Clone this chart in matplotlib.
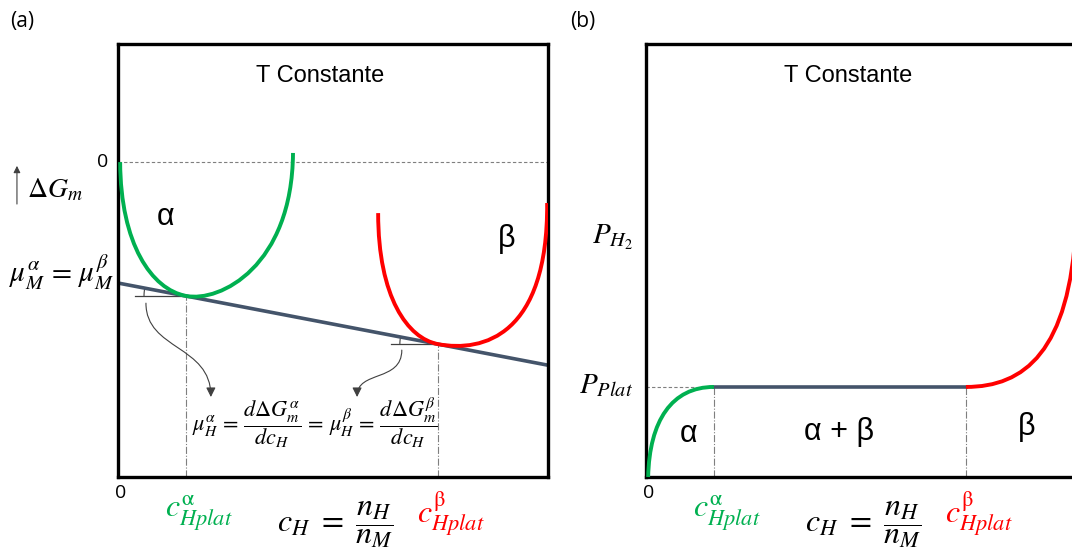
import matplotlib.pyplot as plt
from matplotlib.path import Path
from matplotlib.patches import PathPatch, FancyArrowPatch, Arc
from matplotlib.transforms import blended_transform_factory

plt.rcParams['mathtext.fontset'] = 'stix'
plt.rcParams['font.family'] = ['Liberation Sans', 'DejaVu Sans']

GREEN = '#00B050'
RED = '#FF0000'
SLATE = '#44546A'
GUIDE = '#7F7F7F'

# composition axis (c_H, 0..1) shared by both panels
c_alpha = 0.158
c_beta = 0.744

# (a) free energy: common tangent  mu_M + mu_H * c_H
mu_M = -0.384
mu_H = -0.261
g_ylim = (-1.0, 0.375)

# Bezier control points of the two free-energy wells
g_alpha = [(0.005, 0.0), (0.006, -0.26), (0.078, -0.404), (0.158, -0.425),
           (0.238, -0.446), (0.405, -0.33), (0.407, 0.029)]
g_beta = [(0.605, -0.162), (0.605, -0.43), (0.674, -0.560), (0.744, -0.578),
          (0.85, -0.605), (1.0, -0.55), (0.998, -0.130)]

# curved arrows pointing at the chemical potential equality
arrow_alpha = [(0.065, -0.448), (0.065, -0.597), (0.216, -0.581), (0.216, -0.746)]
arrow_beta = [(0.660, -0.597), (0.660, -0.699), (0.556, -0.661), (0.556, -0.746)]

# (b) pressure - composition isotherm
p_plat = 0.208
p_h2 = 0.554
p_alpha = [(0.005, 0.0), (0.008, 0.13), (0.06, 0.208), (0.158, 0.208)]
p_beta = [(0.744, 0.208), (0.88, 0.208), (0.985, 0.29), (1.0, 0.58)]


def bezier(ax, pts, color, lw):
    codes = [Path.MOVETO] + [Path.CURVE4] * (len(pts) - 1)
    ax.add_patch(PathPatch(Path(pts, codes), fill=False, edgecolor=color,
                           lw=lw, capstyle='butt', zorder=3))


def curved_arrow(ax, pts):
    codes = [Path.MOVETO] + [Path.CURVE4] * 3
    ax.add_patch(FancyArrowPatch(path=Path(pts, codes), arrowstyle='-|>',
                                 mutation_scale=14, lw=0.8, color='#404040',
                                 zorder=4))


def frame(ax):
    for s in ax.spines.values():
        s.set_linewidth(2.4)
    ax.set_xticks([])
    ax.set_yticks([])
    ax.set_xlim(0, 1)


fig = plt.figure(figsize=(10.72, 5.59), dpi=100)
ax1 = fig.add_axes([118 / 1072, 82 / 559, 430 / 1072, 433 / 559])
ax2 = fig.add_axes([646 / 1072, 82 / 559, 430 / 1072, 433 / 559])

# ---------------- (a) ----------------
frame(ax1)
ax1.set_ylim(*g_ylim)
ybot = g_ylim[0]
t_alpha = mu_M + mu_H * c_alpha
t_beta = mu_M + mu_H * c_beta

ax1.axhline(0, color=GUIDE, lw=0.8, ls=(0, (3, 2)), zorder=1)
ax1.plot([0, 1], [mu_M, mu_M + mu_H], color=SLATE, lw=2.6, zorder=2)
bezier(ax1, g_alpha, GREEN, 2.8)
bezier(ax1, g_beta, RED, 2.8)

for c, t in [(c_alpha, t_alpha), (c_beta, t_beta)]:
    ax1.plot([c, c], [ybot, t], color=GUIDE, lw=0.8, ls='-.', zorder=1)
ax1.plot([0.04, c_alpha], [t_alpha, t_alpha], color='#404040', lw=0.9, zorder=1)
ax1.plot([0.635, c_beta], [t_beta, t_beta], color='#404040', lw=0.9, zorder=1)
ax1.add_patch(Arc((c_alpha, t_alpha), 0.195, 0.266, theta1=166, theta2=180,
                  color='#404040', lw=0.8))
ax1.add_patch(Arc((c_beta, t_beta), 0.177, 0.241, theta1=166, theta2=180,
                  color='#404040', lw=0.8))
curved_arrow(ax1, arrow_alpha)
curved_arrow(ax1, arrow_beta)

ax1.text(0.47, 0.925, 'T Constante', transform=ax1.transAxes, ha='center',
         va='center', fontsize=17)
ax1.text(0.11, 0.6, 'α', transform=ax1.transAxes, fontsize=22, ha='center',
         va='center')
ax1.text(0.905, 0.55, 'β', transform=ax1.transAxes, fontsize=22, ha='center',
         va='center')
ax1.text(0.458, -0.83,
         r'$\mu_H^\alpha\,=\,\dfrac{d\Delta G_m^\alpha}{dc_H}\,=\,\mu_H^\beta'
         r'\,=\,\dfrac{d\Delta G_m^\beta}{dc_H}$',
         fontsize=16, ha='center', va='center')

ty1 = blended_transform_factory(ax1.transAxes, ax1.transData)
ax1.text(-0.022, 0, '0', transform=ty1, fontsize=14, ha='right', va='center',
         family='Open Sans')
ax1.text(-0.01, mu_M + 0.035, r'$\mu_M^\alpha\,=\,\mu_M^\beta$', transform=ty1,
         fontsize=21, ha='right', va='center')
ax1.text(-0.212, 0.663, r'$\Delta G_m$', transform=ax1.transAxes, fontsize=20,
         ha='left', va='center')
ax1.annotate('', xy=(-0.235, 0.725), xytext=(-0.235, 0.624),
             xycoords='axes fraction',
             arrowprops=dict(arrowstyle='-|>', color='#404040', lw=0.8,
                             mutation_scale=10))

# ---------------- (b) ----------------
frame(ax2)
ax2.set_ylim(0, 1)
ax2.plot([0, c_alpha], [p_plat, p_plat], color=GUIDE, lw=0.8, ls=(0, (3, 2)),
         zorder=1)
ax2.plot([c_alpha, c_beta], [p_plat, p_plat], color=SLATE, lw=2.6, zorder=2)
bezier(ax2, p_alpha, GREEN, 2.8)
bezier(ax2, p_beta, RED, 2.8)
for c in (c_alpha, c_beta):
    ax2.plot([c, c], [0, p_plat], color=GUIDE, lw=0.8, ls='-.', zorder=1)

ax2.text(0.47, 0.925, 'T Constante', transform=ax2.transAxes, ha='center',
         va='center', fontsize=17)
ax2.text(0.1, 0.1, 'α', fontsize=22, ha='center', va='center')
ax2.text(0.45, 0.105, 'α + β', fontsize=22, ha='center', va='center')
ax2.text(0.885, 0.115, 'β', fontsize=22, ha='center', va='center')

ty2 = blended_transform_factory(ax2.transAxes, ax2.transData)
ax2.text(-0.03, p_h2, r'$P_{H_2}$', transform=ty2, fontsize=21, ha='right',
         va='center')
ax2.text(-0.03, p_plat + 0.005, r'$P_{Plat}$', transform=ty2, fontsize=21,
         ha='right', va='center')

# shared bottom annotations
for ax in (ax1, ax2):
    tx = blended_transform_factory(ax.transData, ax.transAxes)
    ax.text(0.005, -0.037, '0', transform=tx, fontsize=14, ha='center',
            va='center', family='Open Sans')
    ax.text(c_alpha + 0.03, -0.085, r'$c^{\mathrm{\alpha}}_{Hplat}$',
            transform=tx, fontsize=23, ha='center', va='center', color=GREEN)
    ax.text(c_beta + 0.03, -0.085, r'$c^{\mathrm{\beta}}_{Hplat}$',
            transform=tx, fontsize=23, ha='center', va='center', color=RED)
    ax.text(0.505, -0.11, r'$c_H\ =\ \dfrac{n_H}{n_M}$', transform=tx,
            fontsize=23, ha='center', va='center')

fig.text(22 / 1072, 1 - 22 / 559, '(a)', fontsize=15, ha='center',
         va='center', family='Open Sans')
fig.text(583 / 1072, 1 - 22 / 559, '(b)', fontsize=15, ha='center',
         va='center', family='Open Sans')

fig.savefig('out.png', dpi=100)
